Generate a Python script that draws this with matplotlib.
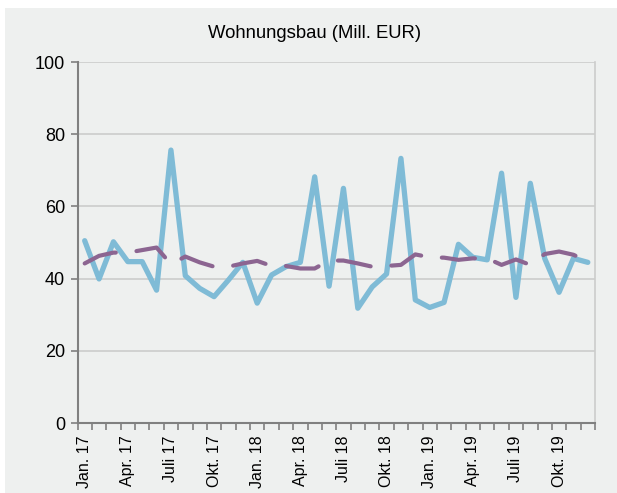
import matplotlib.pyplot as plt
from matplotlib.patches import Rectangle

plt.rcParams['font.family'] = ['Liberation Sans', 'DejaVu Sans']

# monthly values Jan 2017 - Dec 2019
months = ["Jan. 17", "", "", "Apr. 17", "", "", "Juli 17", "", "", "Okt. 17", "", "",
          "Jan. 18", "", "", "Apr. 18", "", "", "Juli 18", "", "", "Okt. 18", "", "",
          "Jan. 19", "", "", "Apr. 19", "", "", "Juli 19", "", "", "Okt. 19", "", ""]

wohnungsbau = [50.5, 39.9, 50.2, 44.7, 44.7, 36.8, 75.6, 40.8, 37.3, 35.0, 39.6, 44.5,
               33.2, 41.0, 43.3, 44.5, 68.2, 37.9, 65.0, 31.8, 37.7, 41.3, 73.3, 34.1,
               32.0, 33.4, 49.5, 45.9, 45.2, 69.2, 34.8, 66.4, 45.6, 36.2, 45.6, 44.5]

trend = [44.2, 46.3, 47.2, 47.2, 47.9, 48.6, 44.0, 46.1, 44.5, 43.3, 43.3, 44.2,
         44.9, 43.5, 43.5, 42.8, 42.8, 45.0, 45.0, 44.2, 43.3, 43.5, 43.8, 46.7,
         45.9, 45.8, 45.2, 45.6, 45.6, 43.8, 45.3, 43.8, 46.8, 47.5, 46.6, 44.7]

bg = '#eef0ef'
fig = plt.figure(figsize=(6.17, 4.93), dpi=100, facecolor='white')
fig.patches.append(Rectangle((5/617, 0), 1, 1 - 8/493, transform=fig.transFigure,
                             facecolor=bg, edgecolor='none', zorder=-1))

ax = fig.add_axes([77.5/617, 1 - 423/493, (595 - 77.5)/617, (423 - 62)/493])
ax.set_facecolor(bg)

x = list(range(len(months)))
ax.plot(x, wohnungsbau, color='#7fbbd6', lw=3.8, solid_joinstyle='round',
        solid_capstyle='round', zorder=3)
ax.plot(x, trend, color='#8c6591', lw=3.0, linestyle=(0, (8.0, 5.0)),
        dash_capstyle='round', zorder=4)

ax.set_xlim(-0.5, len(months) - 0.5)
ax.set_ylim(0, 100)
ax.set_yticks(range(0, 101, 20))
ax.yaxis.grid(True, color='#cccccc', lw=1.2)
ax.set_axisbelow(True)

# labels at month centres, tick marks at month boundaries
lab_pos = [i for i in x if months[i]]
ax.set_xticks(lab_pos)
ax.set_xticklabels([months[i] for i in lab_pos], rotation=90, fontsize=11.5)
ax.set_xticks([i - 0.5 for i in range(len(months) + 1)], minor=True)
ax.tick_params(axis='x', which='major', length=0, pad=9)
ax.tick_params(axis='x', which='minor', length=5, width=1.2, color='#808080')
ax.tick_params(axis='y', length=5, width=1.2, color='#808080', labelsize=13, pad=4)

for s in ['left', 'bottom']:
    ax.spines[s].set_color('#808080')
    ax.spines[s].set_linewidth(1.5)
ax.spines['right'].set_color('#cccccc')
ax.spines['right'].set_linewidth(1.2)
ax.spines['top'].set_visible(False)

fig.text(315/617, 1 - 33/493, "Wohnungsbau (Mill. EUR)", ha='center', va='center', fontsize=13.3)

fig.savefig('out.png', dpi=100, facecolor='white')
